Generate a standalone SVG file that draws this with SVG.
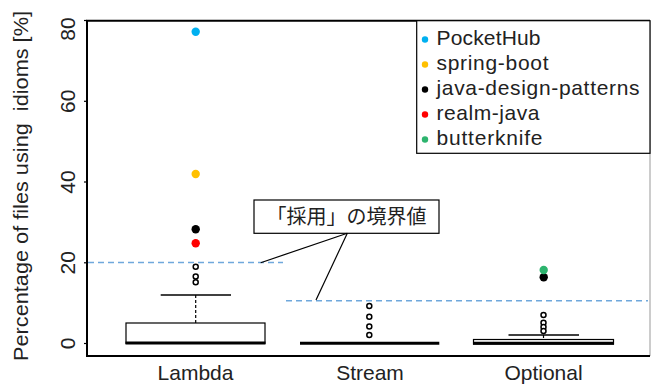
<svg xmlns="http://www.w3.org/2000/svg" width="651" height="386" viewBox="0 0 651 386">
<style>
text{font-family:"Liberation Sans","Noto Sans CJK JP",sans-serif;fill:#222;}
.tick{font-size:21px;text-anchor:middle;}
.cat{font-size:21px;text-anchor:middle;}
.leg{font-size:21px;}
.ax{stroke:#000;stroke-width:2;fill:none;}
.thr{stroke:#6fa8dc;stroke-width:1.5;stroke-dasharray:6 4;fill:none;}
.box{fill:#fff;stroke:#000;stroke-width:1.2;}
.med{stroke:#000;stroke-width:3;}
.cap{stroke:#000;stroke-width:1.5;}
.wh{stroke:#000;stroke-width:1.2;stroke-dasharray:3 2;}
.out{fill:#fff;stroke:#000;stroke-width:1.5;}
.call{stroke:#000;stroke-width:1.2;fill:none;}
</style>
<rect x="0" y="0" width="651" height="386" fill="#fff"/>
<g id="axes">
<line x1="650" y1="20.7" x2="650" y2="356" stroke="#999" stroke-width="1"/>
<polyline class="ax" points="650,20.7 87,20.7 87,356 650,356"/>
<g stroke="#000" stroke-width="1.2">
<line x1="84" y1="20.5" x2="87" y2="20.5"/>
<line x1="84" y1="101.3" x2="87" y2="101.3"/>
<line x1="84" y1="182" x2="87" y2="182"/>
<line x1="84" y1="262.8" x2="87" y2="262.8"/>
<line x1="84" y1="343.5" x2="87" y2="343.5"/>
</g>
<text class="tick" transform="translate(75,29) rotate(-90)">80</text>
<text class="tick" transform="translate(75,101.3) rotate(-90)">60</text>
<text class="tick" transform="translate(75,182) rotate(-90)">40</text>
<text class="tick" transform="translate(75,262.8) rotate(-90)">20</text>
<text class="tick" transform="translate(75,343.5) rotate(-90)">0</text>
<text class="tick" style="white-space:pre" textLength="350" lengthAdjust="spacingAndGlyphs" transform="translate(28,186) rotate(-90)">Percentage of files using  idioms [%]</text>
<text class="cat" x="195.5" y="380">Lambda</text>
<text class="cat" x="370" y="380">Stream</text>
<text class="cat" x="543.5" y="380">Optional</text>
</g>
<g id="thresholds">
<line class="thr" x1="88" y1="262.5" x2="283" y2="262.5"/>
<line class="thr" x1="286" y1="300.7" x2="648" y2="300.7"/>
</g>
<g id="lambda">
<line class="wh" x1="195.7" y1="295" x2="195.7" y2="323"/>
<line class="cap" x1="160.7" y1="295" x2="231" y2="295"/>
<rect class="box" x="126" y="323" width="139" height="20.3"/>
<line class="med" x1="125.5" y1="343" x2="265.5" y2="343"/>
<circle class="out" cx="195.7" cy="266.7" r="2.5"/>
<circle class="out" cx="195.7" cy="276.6" r="2.5"/>
<circle class="out" cx="195.7" cy="282.2" r="2.5"/>
<circle cx="195.7" cy="243.3" r="4.2" fill="#ff0000"/>
<circle cx="195.7" cy="229.3" r="4.2" fill="#000"/>
<circle cx="195.7" cy="174" r="4.2" fill="#ffc000"/>
<circle cx="195.7" cy="31.7" r="4.2" fill="#00b0f0"/>
</g>
<g id="stream">
<line class="med" x1="300" y1="343.3" x2="439.3" y2="343.3"/>
<circle class="out" cx="369.3" cy="306" r="2.5"/>
<circle class="out" cx="369.3" cy="316.7" r="2.5"/>
<circle class="out" cx="369.3" cy="326.5" r="2.5"/>
<circle class="out" cx="369.3" cy="335" r="2.5"/>
</g>
<g id="optional">
<line class="wh" x1="543.5" y1="335" x2="543.5" y2="339.5"/>
<line class="cap" x1="508.5" y1="335" x2="579" y2="335"/>
<rect class="box" x="473.5" y="339.5" width="140" height="4.5"/>
<line class="med" x1="473" y1="343.3" x2="614" y2="343.3"/>
<circle class="out" cx="543.5" cy="315" r="2.5"/>
<circle class="out" cx="543.5" cy="322.7" r="2.5"/>
<circle class="out" cx="543.5" cy="327" r="2.5"/>
<circle class="out" cx="543.5" cy="331" r="2.5"/>
<circle cx="543.7" cy="277.3" r="4.2" fill="#000"/>
<circle cx="543.7" cy="270" r="4.2" fill="#2db46e"/>
</g>
<g id="legend">
<rect x="416.7" y="20.7" width="233.3" height="132.6" fill="#fff" stroke="#000" stroke-width="1.2"/>
<circle cx="425" cy="39.5" r="3.2" fill="#00b0f0"/>
<text class="leg" x="436.5" y="44.5" textLength="104">PocketHub</text>
<circle cx="425" cy="64.5" r="3.2" fill="#ffc000"/>
<text class="leg" x="436.5" y="69.5" textLength="112">spring-boot</text>
<circle cx="425" cy="89.5" r="3.2" fill="#000"/>
<text class="leg" x="436.5" y="94.5" textLength="203">java-design-patterns</text>
<circle cx="425" cy="114.5" r="3.2" fill="#ff0000"/>
<text class="leg" x="436.5" y="119.5" textLength="103">realm-java</text>
<circle cx="425" cy="139.5" r="3.2" fill="#2db46e"/>
<text class="leg" x="436.5" y="144.5" textLength="106">butterknife</text>
</g>
<g id="callout">
<rect x="254" y="200" width="185" height="33.3" fill="#fff" stroke="#000" stroke-width="1.2"/>
<text x="346.5" y="224" style="font-family:'Noto Sans CJK JP',sans-serif;font-size:20px;text-anchor:middle">「採用」の境界値</text>
</g>
<g id="connectors">
<line class="call" x1="347.3" y1="233.3" x2="260.7" y2="262.7"/>
<line class="call" x1="347.3" y1="233.3" x2="316" y2="300"/>
</g>
</svg>
